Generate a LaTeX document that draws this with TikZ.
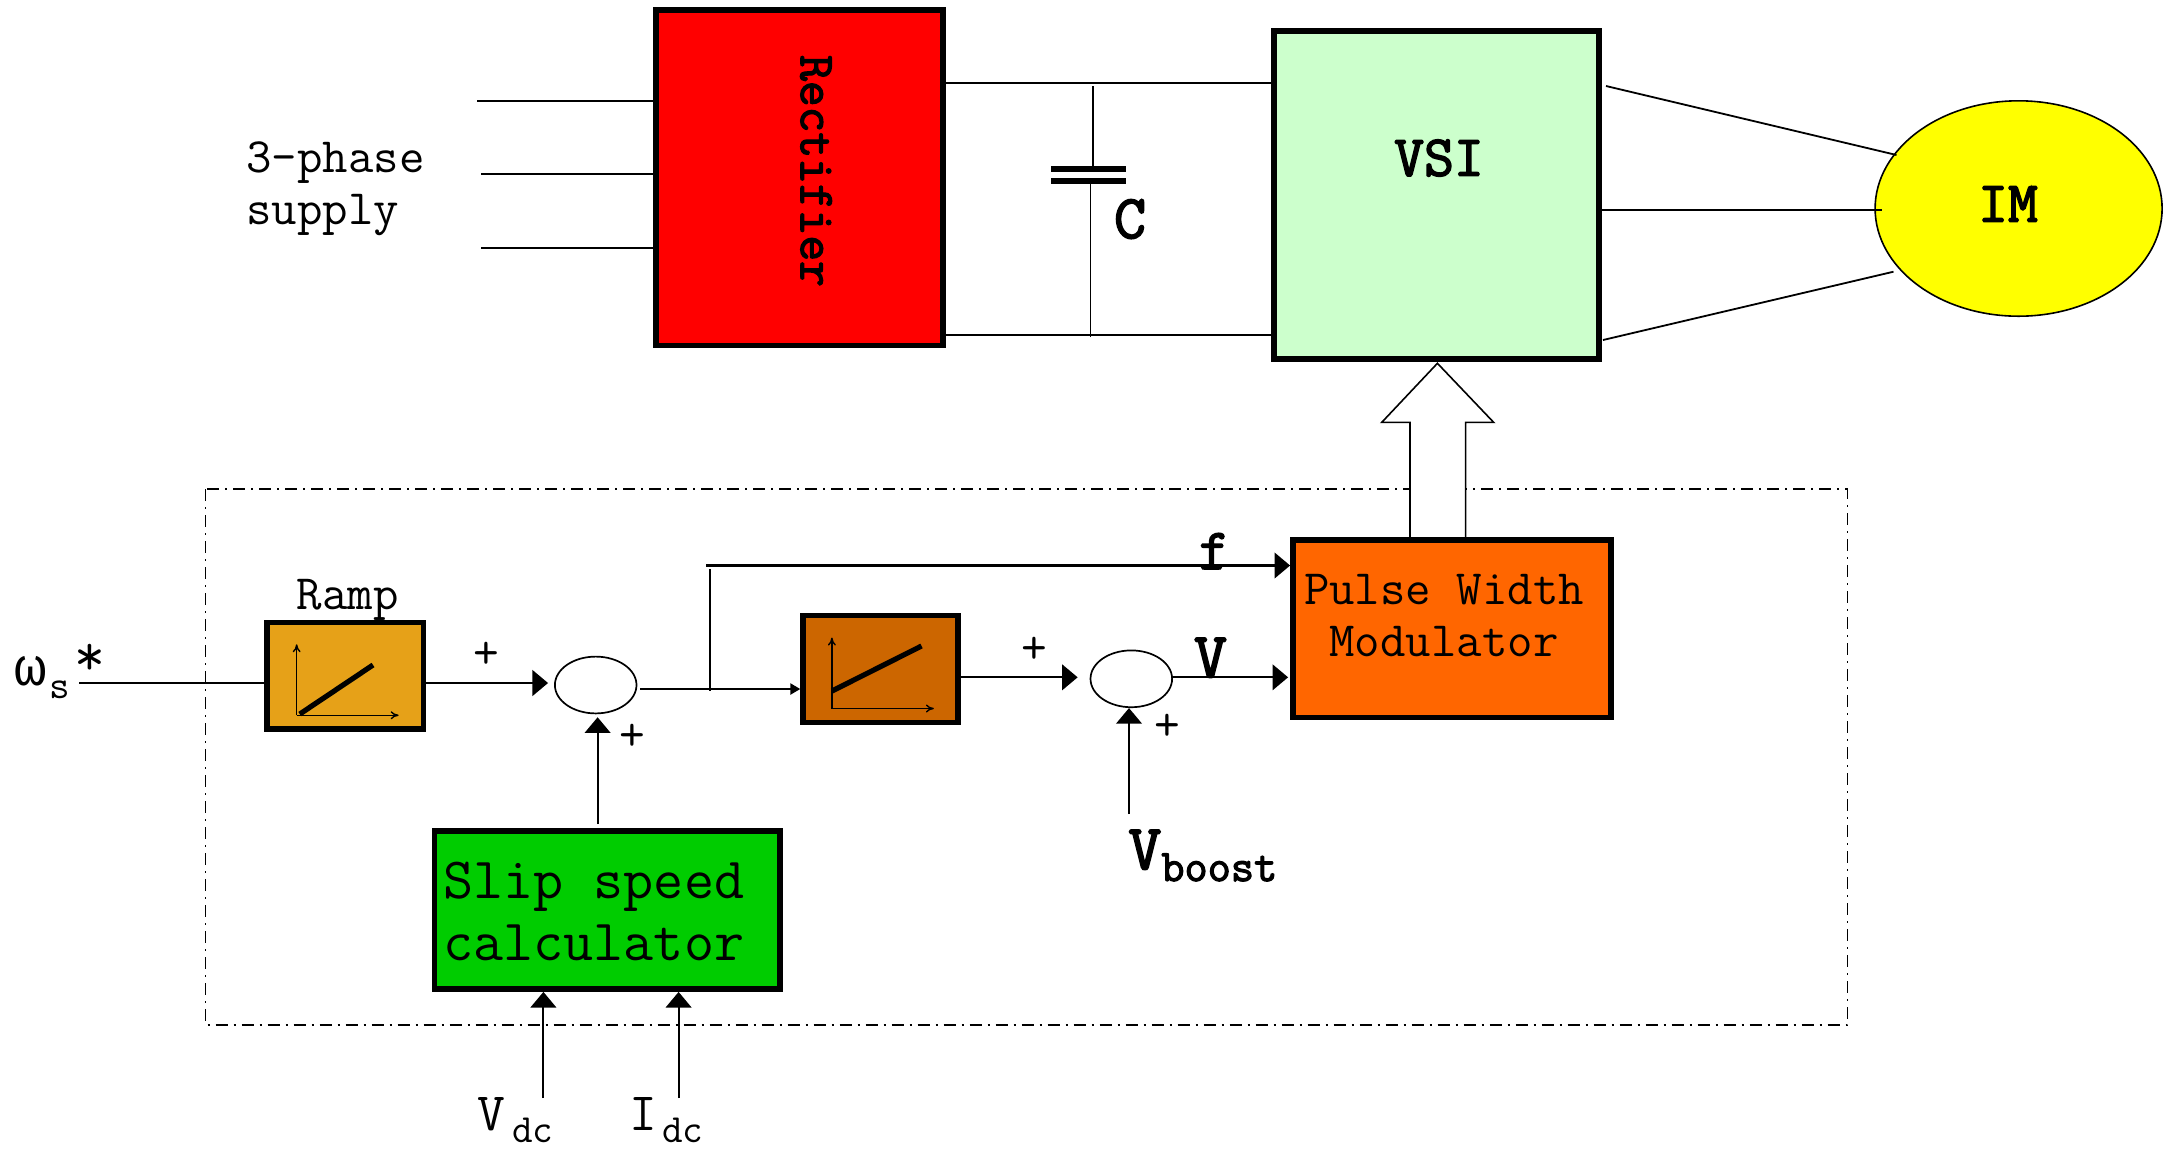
\documentclass[tikz,border=0pt]{standalone}
\usepackage{fontspec}
\usepackage{xcolor}
\usetikzlibrary{arrows.meta,shapes.geometric,positioning,calc}
\newfontfamily\greekfont{Liberation Mono}
\newfontfamily\heavytt[FakeBold=2.6]{Latin Modern Mono}
\definecolor{rectred}{HTML}{FF0000}
\definecolor{vsigreen}{HTML}{CCFFCC}
\definecolor{motoryellow}{HTML}{FFFF00}
\definecolor{pwmorange}{HTML}{FF6600}
\definecolor{rampamber}{HTML}{E6A118}
\definecolor{rampbrown}{HTML}{CC6600}
\definecolor{slipgreen}{HTML}{00CC00}
\tikzset{
    block/.style={draw=black, line width=2.9pt, inner sep=0pt},
    rampblock/.style={draw=black, line width=2.7pt, inner sep=0pt},
    sumjunction/.style={draw=black, ellipse, fill=white, line width=0.85pt, inner sep=0pt,
        minimum width=40.8pt, minimum height=28.4pt},
    capplate/.style={fill=black, inner sep=0pt, minimum width=37.5pt, minimum height=3pt},
    wire/.style={line width=0.9pt},
    sigarrow/.style={line width=1.15pt, -{Triangle[length=7.8pt,width=12.8pt]}},
    smallarrow/.style={line width=1.15pt, -{Triangle[length=5pt,width=5.5pt]}},
    axisarrow/.style={line width=0.7pt, -{To[length=4pt,width=4pt]}},
    rampline/.style={line width=2.6pt},
    ttnorm/.style={font=\fontsize{24.7}{26}\selectfont\ttfamily, inner sep=0pt},
    ttbig/.style={font=\fontsize{29.2}{30.75}\selectfont\ttfamily, inner sep=0pt},
    ttbold/.style={font=\fontsize{29}{30}\selectfont\heavytt, inner sep=0pt},
    plussign/.style={font=\fontsize{25}{26}\selectfont\ttfamily, inner sep=0pt}
}
\begin{document}
\begin{tikzpicture}[x=0.5pt, y=-0.5pt]
        \useasboundingbox (0,0) rectangle (2172,1148);

        % Power stage
        \node[block, fill=rectred, minimum width=143.5pt, minimum height=167.75pt] (rectifier) at (799.5,177.75) {};
        \node[block, fill=vsigreen, minimum width=162.5pt, minimum height=164pt] (vsi) at (1436.5,195) {};
        \node[draw=black, ellipse, fill=motoryellow, line width=0.8pt, inner sep=0pt,
            minimum width=143.5pt, minimum height=107.7pt] (motor) at (2018.6,208.5) {};
        \node[ttbold, font=\fontsize{25}{26}\selectfont\heavytt, rotate=-90] (recttext) at (816,171) {Rectifier};
        \node[ttbold] (vsitext) at (1439,158) {VSI};
        \node[ttbold] (motortext) at (2008,204) {IM};

        % Supply lines
        \foreach \n/\x/\y in {1/477/101, 2/481/174, 3/481/248} {
            \coordinate (sup\n) at (\x,\y);
            \draw[wire] (sup\n) -- (sup\n -| rectifier.west);
        }
        \node[ttnorm, anchor=base west] (supplytop) at (246,172) {3-phase};
        \node[ttnorm, anchor=base west] (supplybot) at (246,224) {supply};

        % DC link
        \coordinate (dctop) at (1100,83.3);
        \coordinate (dcbot) at (1100,335);
        \draw[wire] (rectifier.east |- dctop) -- (vsi.west |- dctop);
        \draw[wire] (rectifier.east |- dcbot) -- (vsi.west |- dcbot);
        \node[capplate] (platetop) at (1088.5,169) {};
        \node[capplate] (platebot) at (1088.5,181) {};
        \coordinate (captop) at (1093,86);
        \coordinate (capbot) at (1090.4,337);
        \draw[line width=0.7pt] (captop) -- (captop |- platetop.north);
        \draw[line width=0.7pt] (capbot) -- (capbot |- platebot.south);
        \node[ttbold, font=\fontsize{31}{31}\selectfont\heavytt, anchor=base] (captext) at (1130,238) {C};

        % Motor leads
        \coordinate (leadaout) at (1606,86);
        \coordinate (leadain) at (1896.5,155);
        \coordinate (leadbin) at (1881.5,210);
        \coordinate (leadcout) at (1603,340);
        \coordinate (leadcin) at (1893.5,271.7);
        \draw[wire] (leadaout) -- (leadain);
        \draw[wire] (vsi.east |- leadbin) -- (leadbin);
        \draw[wire] (leadcout) -- (leadcin);

        % Control boundary
        \draw[line width=0.7pt, dash pattern=on 6pt off 3pt on 1pt off 3pt] (205.4,489) rectangle (1847.3,1024.8);

        % Control blocks
        \node[rampblock, fill=rampamber, minimum width=78.25pt, minimum height=53.25pt] (ramp) at (345.25,675.75) {};
        \node[rampblock, fill=rampbrown, minimum width=77.5pt, minimum height=53.5pt] (ramptwo) at (880.5,669) {};
        \node[block, fill=slipgreen, minimum width=172.75pt, minimum height=79pt] (slip) at (607.25,910) {};
        \node[block, fill=pwmorange, minimum width=159pt, minimum height=88.75pt] (pwm) at (1452,628.75) {};
        \node[sumjunction] (sumone) at (595.7,685) {};
        \node[sumjunction] (sumtwo) at (1131.3,678.8) {};

        % Ramp glyphs
        \foreach \blk/\xa/\ya/\xb/\yb in {ramp/-45.5/38.3/27.8/-10.8, ramptwo/-48.5/22/41/-23} {
            \draw[axisarrow] ($(\blk)+(-48.6,39.5)$) -- ++(0,-71);
            \draw[axisarrow] ($(\blk)+(-48.6,39.5)$) -- ++(102,0);
            \draw[rampline] ($(\blk)+(\xa,\ya)$) -- ($(\blk)+(\xb,\yb)$);
        }
        \node[ttnorm, anchor=base] (ramptext) at (347.6,609) {Ramp};

        % Block texts
        \node[ttbig, align=left, anchor=west] (sliptext) at (443,911.5) {Slip speed\\calculator};
        \node[ttnorm, align=center] (pwmtext) at (1444,616) {Pulse Width\\Modulator};

        % Signal path
        \coordinate (omegain) at (79.3,683);
        \draw[line width=1.15pt] (omegain) -- (ramp.west |- omegain);
        \draw[sigarrow, shorten >=3pt] (ramp.east |- omegain) -- (sumone.west |- omegain);
        \coordinate (sumoneout) at (640,689);
        \draw[smallarrow] (sumoneout) -- (sumoneout -| ramptwo.west);
        \coordinate (fstart) at (706,565.5);
        \draw[sigarrow] (fstart) -- (fstart -| pwm.west);
        \coordinate (fbranch) at (710,569);
        \draw[wire] (fbranch) -- ($(fbranch |- sumoneout)+(0,2)$);
        \coordinate (vline) at (1200,677.3);
        \draw[sigarrow, shorten >=6pt] (ramptwo.east |- vline) -- (vline -| sumtwo.west);
        \draw[sigarrow, shorten >=1pt] (vline -| sumtwo.east) -- (vline -| pwm.west);
        \coordinate (boostin) at (1129,814);
        \draw[sigarrow, line width=1pt] (boostin) -- (boostin |- sumtwo.south);
        \coordinate (slipout) at (597.6,824);
        \draw[sigarrow, line width=1pt, shorten >=1.5pt] (slipout) -- (slipout |- sumone.south);
        \coordinate (vdcin) at (543.4,1098);
        \coordinate (idcin) at (678.6,1098);
        \draw[sigarrow, line width=1pt] (vdcin) -- (vdcin |- slip.south);
        \draw[sigarrow, line width=1pt] (idcin) -- (idcin |- slip.south);

        % Gate signal arrow
        \draw[line width=0.8pt, fill=white] (1410,538) -- (1410,422.4) -- (1381.7,422.4) -- (1437.4,363.3)
            -- (1493.7,422.4) -- (1465.6,422.4) -- (1465.6,538) -- cycle;

        % Signal labels
        \node[ttnorm, anchor=base west] (omegatext) at (14,685) {{\greekfont\fontsize{27}{27}\selectfont ω}\kern1.5pt\raisebox{-6.5pt}{\fontsize{20}{20}\selectfont s}\kern2pt\raisebox{5pt}{\fontsize{30}{30}\selectfont *}};
        \node[ttbold, anchor=base] (ftext) at (1214,569) {f};
        \node[ttbold, font=\fontsize{32}{32}\selectfont\heavytt, anchor=base] (vtext) at (1210.5,677) {V};
        \node[ttbold, font=\fontsize{32}{32}\selectfont\heavytt, anchor=base west] (boosttext) at (1128,869) {V\raisebox{-6pt}{\fontsize{22.5}{22.5}\selectfont boost}};
        \node[ttnorm, font=\fontsize{27}{27}\selectfont\ttfamily, anchor=base west] (vdctext) at (477,1130) {V\kern3.5pt\raisebox{-6pt}{\fontsize{20}{20}\selectfont dc}};
        \node[ttnorm, font=\fontsize{27}{27}\selectfont\ttfamily, anchor=base west] (idctext) at (629,1130) {I\kern2.5pt\raisebox{-6pt}{\fontsize{20}{20}\selectfont dc}};
        \node[plussign] (plusa) at (486,655) {+};
        \node[plussign] (plusb) at (632.7,737.7) {+};
        \node[plussign] (plusc) at (1034.4,650) {+};
        \node[plussign] (plusd) at (1167.7,727) {+};
    \end{tikzpicture}
\end{document}
